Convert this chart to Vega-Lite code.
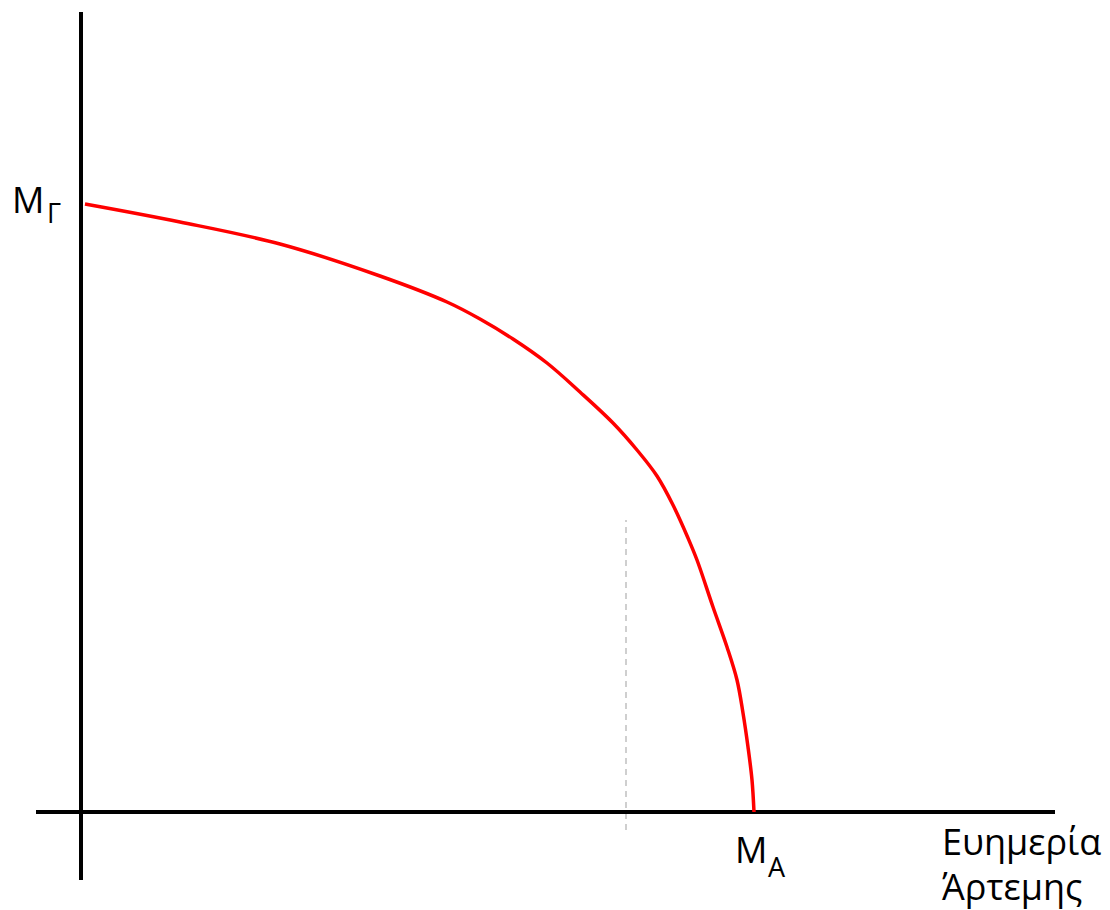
{
  "$schema": "https://vega.github.io/schema/vega-lite/v6.json",
  "width": 1110,
  "height": 910,
  "padding": 0,
  "autosize": {"type": "fit", "contains": "padding"},
  "config": {"view": {"stroke": null}, "background": "white"},
  "encoding": {
    "x": {"field": "x", "type": "quantitative", "scale": {"domain": [-81, 1029], "nice": false, "zero": false}, "axis": null},
    "y": {"field": "y", "type": "quantitative", "scale": {"domain": [-98, 812], "nice": false, "zero": false}, "axis": null}
  },
  "layer": [
    {
      "data": {"values": [
        {"x": 545, "y": -18, "y2": 292}
      ]},
      "mark": {"type": "rule", "color": "#c0c0c0", "strokeWidth": 1.5, "strokeDash": [6, 5]},
      "encoding": {"y2": {"field": "y2"}}
    },
    {
      "data": {"values": [
        {"x": 0, "y": -68, "x2": 0, "y2": 800},
        {"x": -45, "y": 0, "x2": 974, "y2": 0}
      ]},
      "mark": {"type": "rule", "color": "black", "strokeWidth": 4},
      "encoding": {"x2": {"field": "x2"}, "y2": {"field": "y2"}}
    },
    {
      "data": {"values": [
        {"x": 4, "y": 608},
        {"x": 99, "y": 590},
        {"x": 199, "y": 568},
        {"x": 299, "y": 536},
        {"x": 366, "y": 510},
        {"x": 399, "y": 493},
        {"x": 432, "y": 473},
        {"x": 466, "y": 449},
        {"x": 499, "y": 420},
        {"x": 532, "y": 389},
        {"x": 556, "y": 362},
        {"x": 576, "y": 336},
        {"x": 592, "y": 307},
        {"x": 607, "y": 274},
        {"x": 616, "y": 252},
        {"x": 632, "y": 205},
        {"x": 646, "y": 165},
        {"x": 656, "y": 132},
        {"x": 662, "y": 99},
        {"x": 667, "y": 65},
        {"x": 671, "y": 32},
        {"x": 673, "y": 0}
      ]},
      "mark": {"type": "line", "color": "#ff0000", "strokeWidth": 3.5, "interpolate": "catmull-rom"}
    },
    {
      "data": {"values": [
        {"x": -69, "y": 599, "label": "M"},
        {"x": 654, "y": -51, "label": "M"},
        {"x": 861, "y": -43, "label": "Ευημερία"},
        {"x": 861, "y": -88, "label": "Άρτεμης"}
      ]},
      "mark": {"type": "text", "align": "left", "baseline": "alphabetic", "font": "Open Sans", "fontSize": 36, "color": "black"},
      "encoding": {"text": {"field": "label"}}
    },
    {
      "data": {"values": [
        {"x": -34, "y": 589, "label": "Γ"},
        {"x": 687, "y": -65, "label": "A"}
      ]},
      "mark": {"type": "text", "align": "left", "baseline": "alphabetic", "font": "Open Sans", "fontSize": 27, "color": "black"},
      "encoding": {"text": {"field": "label"}}
    }
  ]
}
